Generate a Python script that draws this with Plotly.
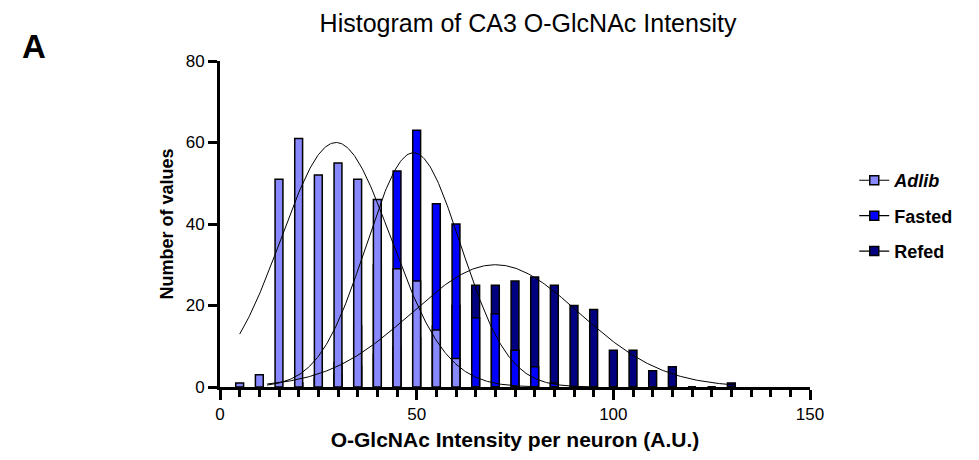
import numpy as np
import plotly.graph_objects as go

# ---- data ----
bin_centers = [5, 10, 15, 20, 25, 30, 35, 40, 45, 50, 55, 60, 65, 70, 75, 80, 85, 90, 95,
               100, 105, 110, 115, 120, 125, 130]
adlib_counts = [1, 3, 51, 61, 52, 55, 51, 46, 29, 26, 14, 7, 0, 0, 0, 0, 0, 0, 0,
                0, 0, 0, 0, 0, 0, 0]
fasted_counts = [0, 0, 0, 1, 3, 6, 15, 30, 53, 63, 45, 40, 17, 18, 9, 5, 1, 0, 0,
                 0, 0, 0, 0, 0, 0, 0]
refed_counts = [0, 0, 0, 1, 2, 3, 5, 8, 10, 12, 15, 20, 25, 25, 26, 27, 25, 20, 19,
                9, 9, 4, 5, 0, 0, 1]

series_names = ["<b><i>Adlib</i></b>", "<b>Fasted</b>", "<b>Refed</b>"]
series_colors = ["#8888ff", "#0000ff", "#000080"]

# Gaussian fit parameters (amplitude, mean, SD) and plotted ranges
fit_amp = [60.0, 57.5, 30.0]
fit_mean = [29.5, 49.2, 70.0]
fit_sd = [14.0, 12.0, 21.3]
fit_from = [5, 12, 12]
fit_to = [80, 95, 131]

x_ticks = [0, 50, 100, 150]
y_ticks = [0, 20, 40, 60, 80]

FONT = "Arial, Liberation Sans, sans-serif"

fig = go.Figure()

# bars drawn back to front: Refed, Fasted, Adlib
for counts, color in [(refed_counts, series_colors[2]),
                      (fasted_counts, series_colors[1]),
                      (adlib_counts, series_colors[0])]:
    fig.add_trace(go.Bar(x=bin_centers, y=counts, width=2.0,
                         marker=dict(color=color, line=dict(color="black", width=1.5)),
                         showlegend=False, hoverinfo="skip"))

# Gaussian fit curves
for a, m, s, x0, x1 in zip(fit_amp, fit_mean, fit_sd, fit_from, fit_to):
    xs = np.linspace(x0, x1, 300)
    ys = a * np.exp(-((xs - m) ** 2) / (2 * s ** 2))
    fig.add_trace(go.Scatter(x=xs, y=ys, mode="lines",
                             line=dict(color="black", width=1),
                             showlegend=False, hoverinfo="skip"))

# legend entries (line + square marker)
for i, (name, color) in enumerate(zip(series_names, series_colors)):
    fig.add_trace(go.Scatter(x=[None], y=[None], mode="lines+markers", name=name,
                             legendgroup=f"g{i}",
                             line=dict(color="black", width=1.2),
                             marker=dict(symbol="square", size=9, color=color,
                                         line=dict(color="black", width=1.5))))

fig.update_layout(
    width=979, height=460,
    margin=dict(l=220, r=169, t=61, b=73),
    paper_bgcolor="white", plot_bgcolor="white",
    barmode="overlay",
    font=dict(family=FONT, color="black"),
    title=dict(text="Histogram of CA3 O-GlcNAc Intensity", x=528 / 979, xanchor="center",
               y=1 - 23 / 460, yanchor="middle",
               font=dict(size=25, family=FONT, color="black")),
    showlegend=True,
    legend=dict(x=1.075, xanchor="left", y=0.69, yanchor="top",
                font=dict(size=18, family=FONT, color="black", weight="bold"),
                tracegroupgap=9, itemwidth=30, bgcolor="rgba(0,0,0,0)"),
)

fig.update_xaxes(range=[0, 150], tickvals=x_ticks, ticktext=[str(v) for v in x_ticks],
                 showline=True, linewidth=3, linecolor="black", mirror=False,
                 ticks="outside", ticklen=10, tickwidth=2.5, tickcolor="black",
                 minor=dict(dtick=5, ticks="outside", ticklen=7, tickwidth=2.5, tickcolor="black"),
                 showgrid=False, zeroline=False,
                 tickfont=dict(size=17, family=FONT, color="black"),
                 title=dict(text="<b>O-GlcNAc Intensity per neuron (A.U.)</b>",
                            font=dict(size=21, family=FONT, color="black"), standoff=9))
fig.update_yaxes(range=[0, 80], tickvals=y_ticks, ticktext=[str(v) for v in y_ticks],
                 showline=True, linewidth=3, linecolor="black",
                 ticks="outside", ticklen=9, tickwidth=2.5, tickcolor="black",
                 showgrid=False, zeroline=False,
                 tickfont=dict(size=17, family=FONT, color="black"),
                 title=dict(text="<b>Number of values</b>",
                            font=dict(size=18, family=FONT, color="black"), standoff=8))

fig.add_annotation(text="<b>A</b>", xref="paper", yref="paper",
                   x=(34 - 220) / 590, y=(386.5 - 47) / 325.5, xanchor="center", yanchor="middle",
                   showarrow=False, font=dict(size=33, family=FONT, color="black"))

fig.write_html("out.html")
